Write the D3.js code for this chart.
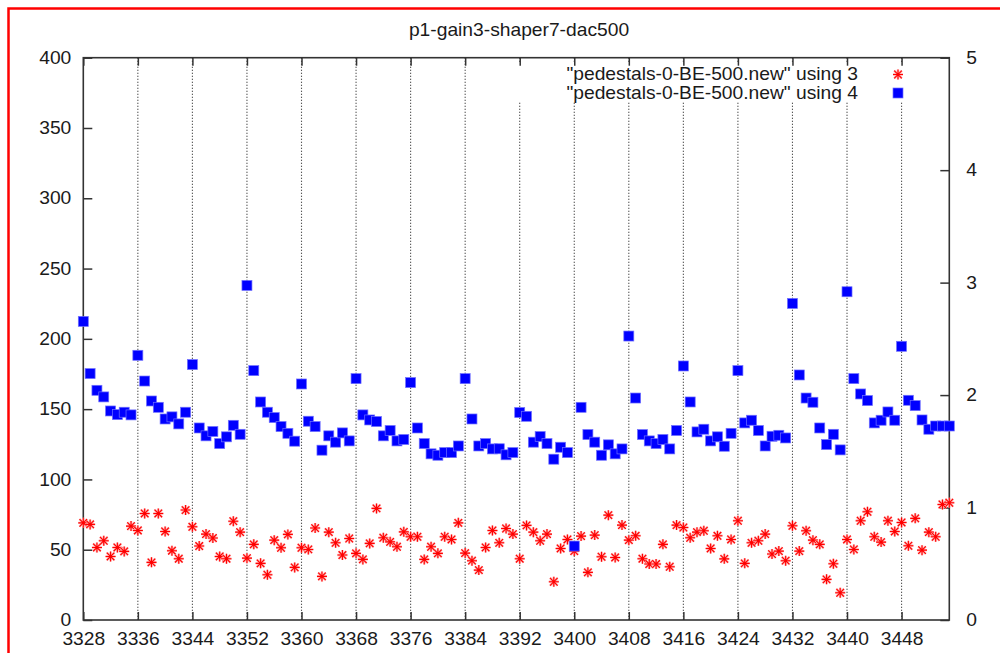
<!DOCTYPE html>
<html>
<head>
<meta charset="utf-8">
<script src="https://cdn.jsdelivr.net/npm/d3@7"></script>
<style>
  body { margin: 0; background: #fff; }
  svg { display: block; font-family: "Liberation Sans", Arial, sans-serif; }
  .tick text { fill: #1a1a1a; font-size: 17.5px; }
  .tick line { stroke: #333; stroke-width: 1.5; }
</style>
</head>
<body>
<div id="chart"></div>
<script>
// channel numbers along the x axis
var channels = [
  3328, 3329, 3330, 3331, 3332, 3333, 3334, 3335, 3336, 3337, 3338, 3339, 3340, 3341, 3342, 3343,
  3344, 3345, 3346, 3347, 3348, 3349, 3350, 3351, 3352, 3353, 3354, 3355, 3356, 3357, 3358, 3359,
  3360, 3361, 3362, 3363, 3364, 3365, 3366, 3367, 3368, 3369, 3370, 3371, 3372, 3373, 3374, 3375,
  3376, 3377, 3378, 3379, 3380, 3381, 3382, 3383, 3384, 3385, 3386, 3387, 3388, 3389, 3390, 3391,
  3392, 3393, 3394, 3395, 3396, 3397, 3398, 3399, 3400, 3401, 3402, 3403, 3404, 3405, 3406, 3407,
  3408, 3409, 3410, 3411, 3412, 3413, 3414, 3415, 3416, 3417, 3418, 3419, 3420, 3421, 3422, 3423,
  3424, 3425, 3426, 3427, 3428, 3429, 3430, 3431, 3432, 3433, 3434, 3435, 3436, 3437, 3438, 3439,
  3440, 3441, 3442, 3443, 3444, 3445, 3446, 3447, 3448, 3449, 3450, 3451, 3452, 3453, 3454, 3455
];

// "using 3" (red stars)
var using3 = [
  69.1, 68, 51.6, 56.4, 45.2, 51.6, 48.8, 66.8,
  63.7, 75.8, 41, 75.8, 63, 49.3, 43.6, 78.2,
  66.3, 52.6, 61.1, 58.3, 45.2, 43.6, 70.3, 62.5,
  44, 53.8, 40.3, 32.2, 56.8, 51.4, 60.9, 37.4,
  51.4, 50.2, 65.4, 31, 62.5, 54.9, 46.2, 58,
  47.4, 43.1, 54.5, 79.4, 58.5, 55.6, 52.1, 62.7,
  59.2, 59.2, 43.1, 52.1, 47.4, 59.2, 57.3, 69.1,
  47.6, 42.2, 35.5, 51.6, 63.7, 54.9, 65.1, 61.1,
  43.6, 67.3, 62.5, 56.4, 61.1, 27.2, 50.9, 57.3,
  49, 59.7, 33.9, 60.4, 45, 74.6, 44.5, 67.5,
  56.8, 59.9, 43.6, 39.8, 39.8, 53.8, 37.9, 67.5,
  65.8, 58.5, 62.5, 63.5, 50.9, 59.9, 43.5, 57.3,
  70.6, 40.3, 54.9, 56.4, 61.1, 46.9, 49, 42.2,
  67, 49, 63.5, 56.8, 53.8, 28.9, 40, 19.4,
  57.3, 50.2, 70.6, 77, 59.2, 55.4, 70.6, 63,
  69.4, 52.8, 72.3, 49.7, 62.5, 59.2, 82.2, 83.4
];

// "using 4" (blue squares)
var using4 = [
  212.4, 175.3, 163.4, 158.7, 148.7, 146.1, 147.8, 145.9,
  188.3, 170, 155.8, 151.3, 143, 144.5, 139.5, 147.8,
  181.7, 136.6, 131, 134.1, 125.5, 130.3, 138.5, 132.1,
  238, 177.4, 155.1, 147.8, 144, 137.6, 132.8, 127.2,
  167.9, 141.4, 137.6, 120.8, 131, 126.5, 133.1, 127.4,
  171.7, 145.9, 142.3, 141.2, 131, 134.8, 127.4, 128.4,
  168.9, 136.6, 125.5, 118.2, 117.2, 119.1, 119.1, 123.8,
  171.7, 143, 123.8, 125.5, 121.7, 121.8, 117.5, 119.1,
  147.6, 144.9, 126.5, 130.5, 125.5, 114.4, 122.9, 119.1,
  52.6, 151.3, 131.9, 126.5, 117.2, 124.6, 118.2, 121.7,
  202, 157.9, 131.9, 127.4, 125.5, 128.4, 121.7, 134.8,
  180.7, 155.1, 133.8, 135.7, 127.4, 130.3, 123.6, 132.8,
  177.4, 140.2, 142.1, 134.8, 123.8, 130.7, 131.4, 129.5,
  225.2, 174.3, 157.9, 154.9, 136.6, 124.8, 132.1, 121,
  233.5, 171.7, 160.8, 156.1, 140.2, 142.1, 148, 142.1,
  194.7, 156.3, 152.5, 142.3, 135.7, 138, 138, 138
];

var xTicks = [3328, 3336, 3344, 3352, 3360, 3368, 3376, 3384, 3392, 3400, 3408, 3416, 3424, 3432, 3440, 3448];
var yTicks = [0, 50, 100, 150, 200, 250, 300, 350, 400];
var y2Ticks = [0, 1, 2, 3, 4, 5];

var title = "p1-gain3-shaper7-dac500";
var labels = ['"pedestals-0-BE-500.new" using 3', '"pedestals-0-BE-500.new" using 4'];

var W = 1000, H = 653;
var plot = { left: 83.3, right: 949.3, top: 57.7, bottom: 620 };
var sx = 1.1; // text is a bit wide in the original

var svg = d3.select("#chart").append("svg")
  .attr("width", W).attr("height", H);

// red frame around the picture
svg.append("rect")
  .attr("x", 8.5).attr("y", 8.5)
  .attr("width", 1200).attr("height", 1000)
  .attr("fill", "none").attr("stroke", "#f00").attr("stroke-width", 2.5);

var x = d3.scaleLinear().domain([3328, 3455]).range([plot.left, plot.right]);
var y = d3.scaleLinear().domain([0, 400]).range([plot.bottom, plot.top]);
var y2 = d3.scaleLinear().domain([0, 5]).range([plot.bottom, plot.top]);

// dotted grid at x ticks
svg.append("g")
  .selectAll("line")
  .data(xTicks.filter(function (d) { return d > 3328; }))
  .enter().append("line")
  .attr("x1", function (d) { return x(d); })
  .attr("x2", function (d) { return x(d); })
  .attr("y1", plot.top).attr("y2", plot.bottom)
  .attr("stroke", "#222").attr("stroke-width", 1.1)
  .attr("stroke-dasharray", "1,2");

// key area blanks the grid
svg.append("rect")
  .attr("x", 508).attr("y", 62)
  .attr("width", 410).attr("height", 40)
  .attr("fill", "#fff");

// axes with inward ticks
var gx = svg.append("g")
  .attr("transform", "translate(0," + plot.bottom + ")")
  .call(d3.axisBottom(x).tickValues(xTicks).tickFormat(d3.format("d")).tickSize(-8).tickPadding(13));
var gxt = svg.append("g")
  .attr("transform", "translate(0," + plot.top + ")")
  .call(d3.axisTop(x).tickValues(xTicks).tickFormat("").tickSize(-8));
var gy = svg.append("g")
  .attr("transform", "translate(" + plot.left + ",0)")
  .call(d3.axisLeft(y).tickValues(yTicks).tickFormat(d3.format("d")).tickSize(-9).tickPadding(12));
var gy2 = svg.append("g")
  .attr("transform", "translate(" + plot.right + ",0)")
  .call(d3.axisRight(y2).tickValues(y2Ticks).tickFormat(d3.format("d")).tickSize(-9).tickPadding(17));

[gx, gxt, gy, gy2].forEach(function (g) { g.select(".domain").remove(); });
gx.selectAll(".tick text").attr("transform", "scale(" + sx + ",1)");
gy.selectAll(".tick text").attr("x", -12 / sx).attr("transform", "scale(" + sx + ",1)");
gy2.selectAll(".tick text").attr("x", 17 / sx).attr("transform", "scale(" + sx + ",1)");

// plot border
svg.append("rect")
  .attr("x", plot.left).attr("y", plot.top)
  .attr("width", plot.right - plot.left).attr("height", plot.bottom - plot.top)
  .attr("fill", "none").attr("stroke", "#333").attr("stroke-width", 1.6);

// title
svg.append("text")
  .attr("transform", "translate(519,36) scale(" + sx + ",1)")
  .attr("text-anchor", "middle")
  .style("font-size", "17.5px").style("fill", "#1a1a1a")
  .text(title);

var starPath = "M-5,0H5M0,-5V5M-3.8,-3.8L3.8,3.8M-3.8,3.8L3.8,-3.8";
function drawStar(g, cx, cy) {
  g.append("path").attr("d", starPath)
    .attr("transform", "translate(" + cx + "," + cy + ")")
    .attr("stroke", "#ffb0b0").attr("stroke-width", 2.4).attr("fill", "none");
  g.append("path").attr("d", starPath)
    .attr("transform", "translate(" + cx + "," + cy + ")")
    .attr("stroke", "#f00").attr("stroke-width", 1.1).attr("fill", "none");
}
function drawSquare(g, cx, cy) {
  g.append("rect")
    .attr("x", cx - 5).attr("y", cy - 5)
    .attr("width", 10).attr("height", 10)
    .attr("fill", "#0000ff").attr("stroke", "#7070ff").attr("stroke-width", 0.7);
}

// red stars
var gs = svg.append("g");
channels.forEach(function (c, i) { drawStar(gs, x(c), y(using3[i])); });

// blue squares
var gb = svg.append("g");
channels.forEach(function (c, i) { drawSquare(gb, x(c), y(using4[i])); });

// key
var key = svg.append("g");
labels.forEach(function (t, i) {
  key.append("text")
    .attr("transform", "translate(858," + (80 + i * 18.5) + ") scale(" + sx + ",1)")
    .attr("text-anchor", "end")
    .style("font-size", "17.5px").style("fill", "#1a1a1a")
    .text(t);
});
drawStar(key, 898, 74.5);
drawSquare(key, 898, 93);
</script>
</body>
</html>
